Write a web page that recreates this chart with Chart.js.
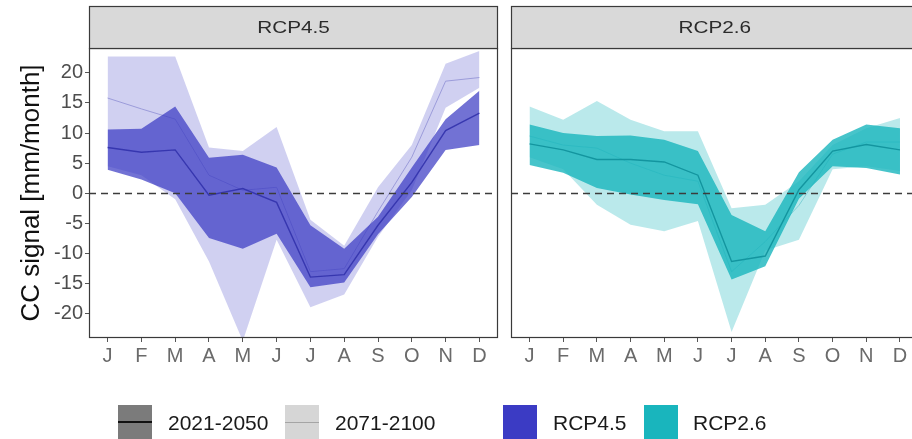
<!DOCTYPE html>
<html>
<head>
<meta charset="utf-8">
<script src="https://cdn.jsdelivr.net/npm/chart.js@4.4.1/dist/chart.umd.min.js"></script>
<style>
  html, body { margin: 0; padding: 0; background: #fff; overflow: hidden; }
  #wrap { position: relative; width: 912px; height: 439px; overflow: hidden;
          font-family: "Liberation Sans", Arial, sans-serif; }
  #cA { position: absolute; left: 0; top: 0; }
  #cB { position: absolute; left: 500px; top: 0; }
  .key { position: absolute; top: 405px; width: 34px; height: 34px; }
  .key i { position: absolute; left: 0; right: 0; display: block; }
  .lab { position: absolute; top: 411px; font-size: 21px; line-height: 24px; color: #1a1a1a; white-space: nowrap; }
</style>
</head>
<body>
<div id="wrap">
  <canvas id="cA" width="500" height="439"></canvas>
  <canvas id="cB" width="420" height="439"></canvas>
  <div id="legend"></div>
</div>
<script>
// Month axis and y ticks
const months = ['J', 'F', 'M', 'A', 'M', 'J', 'J', 'A', 'S', 'O', 'N', 'D'];
const yTicks = [-20, -15, -10, -5, 0, 5, 10, 15, 20];

// Facet titles and legend entries
const panelTitles = ['RCP4.5', 'RCP2.6'];
const periodLabels = ['2021-2050', '2071-2100'];

// RCP4.5, 2021-2050: median and ensemble range (mm/month)
const rcp45NearMed = [7.6, 6.8, 7.2, -0.3, 0.8, -1.5, -13.9, -13.5, -5.3, 1.8, 10.4, 13.3];
const rcp45NearLo  = [3.9, 2.3, 0.0, -7.4, -9.2, -6.7, -15.6, -14.8, -6.8, -0.6, 7.2, 8.0];
const rcp45NearHi  = [10.6, 10.7, 14.4, 5.9, 6.4, 4.3, -5.3, -9.2, -3.9, 4.3, 12.3, 17.0];

// RCP4.5, 2071-2100
const rcp45FarMed = [15.8, 14.0, 12.3, 3.0, 0.5, 1.0, -13.0, -12.5, -3.0, 6.0, 18.6, 19.2];
const rcp45FarLo  = [4.5, 3.0, -1.0, -11.3, -24.5, -7.7, -18.9, -16.8, -7.2, 0.5, 14.2, 17.5];
const rcp45FarHi  = [22.7, 22.7, 22.7, 7.6, 7.0, 11.0, -4.4, -8.7, 1.0, 8.0, 21.5, 23.6];

// RCP2.6, 2021-2050
const rcp26NearMed = [8.2, 7.2, 5.6, 5.6, 5.2, 3.0, -11.3, -10.4, 0.6, 7.0, 8.1, 7.2];
const rcp26NearLo  = [4.7, 3.4, 0.9, -0.2, -1.1, -1.8, -14.3, -12.1, -0.9, 4.5, 4.2, 3.1];
const rcp26NearHi  = [11.4, 10.0, 9.5, 9.6, 8.9, 7.0, -3.6, -6.3, 3.5, 8.9, 11.4, 10.8];

// RCP2.6, 2071-2100
const rcp26FarMed = [9.5, 8.0, 7.5, 5.0, 3.0, 2.0, -13.0, -8.0, -2.0, 6.5, 8.5, 8.5];
const rcp26FarLo  = [6.0, 4.0, -1.9, -5.2, -6.3, -4.6, -23.0, -9.5, -7.7, 4.0, 4.5, 3.7];
const rcp26FarHi  = [14.4, 12.2, 15.3, 12.2, 10.3, 10.3, -2.5, -1.9, 2.0, 8.0, 10.8, 12.5];

const FONT = '"Liberation Sans", Arial, sans-serif';
Chart.defaults.font.family = FONT;

const palette = {
  rcp45: { rgb: '59,59,196', line: 'rgba(50,50,172,0.9)', farLine: 'rgba(150,150,215,0.9)' },
  rcp26: { rgb: '25,181,189', line: 'rgba(16,145,155,0.9)', farLine: 'rgba(120,205,212,0.9)' }
};

const toXY = arr => arr.map((v, i) => ({ x: i + 1, y: v }));

function bandSets(med, lo, hi, rgb, lineCol, fillAlpha, medWidth, baseOrder) {
  const none = 'rgba(0,0,0,0)';
  const common = { pointRadius: 0, pointHoverRadius: 0, tension: 0 };
  return [
    Object.assign({ data: toXY(lo), borderColor: none, borderWidth: 1, fill: false, order: baseOrder + 2 }, common),
    Object.assign({ data: toXY(hi), borderColor: none, borderWidth: 1, fill: '-1',
                    backgroundColor: `rgba(${rgb},${fillAlpha})`, order: baseOrder + 1 }, common),
    Object.assign({ data: toXY(med), borderColor: lineCol, borderWidth: medWidth, fill: false, order: baseOrder }, common)
  ];
}

// Facet strip, dashed zero line and panel frame
function panelDecor(title) {
  return {
    id: 'panelDecor',
    afterDatasetsDraw(chart) {
      const { ctx, chartArea: a, scales: { y } } = chart;
      const y0 = Math.round(y.getPixelForValue(0)) + 0.5;
      ctx.save();
      ctx.beginPath();
      ctx.rect(a.left, a.top, a.right - a.left, a.bottom - a.top);
      ctx.clip();
      ctx.strokeStyle = '#3c3c3c';
      ctx.lineWidth = 1.3;
      ctx.setLineDash([7, 5]);
      ctx.beginPath();
      ctx.moveTo(a.left, y0);
      ctx.lineTo(a.right, y0);
      ctx.stroke();
      ctx.restore();

      ctx.save();
      ctx.strokeStyle = '#3a3a3a';
      ctx.lineWidth = 1.2;
      ctx.strokeRect(a.left + 0.5, a.top + 0.5, a.right - a.left - 1, a.bottom - a.top - 1);
      ctx.restore();
    },
    afterDraw(chart) {
      const { ctx, chartArea: a } = chart;
      const top = 6, bottom = a.top;
      ctx.save();
      ctx.fillStyle = '#d9d9d9';
      ctx.fillRect(a.left, top, a.right - a.left, bottom - top);
      ctx.strokeStyle = '#3a3a3a';
      ctx.lineWidth = 1.2;
      ctx.strokeRect(a.left + 0.5, top + 0.5, a.right - a.left - 1, bottom - top);
      ctx.fillStyle = '#2b2b2b';
      ctx.font = '17px ' + FONT;
      ctx.textAlign = 'center';
      ctx.textBaseline = 'middle';
      ctx.translate((a.left + a.right) / 2, (top + bottom) / 2 + 1);
      ctx.scale(1.22, 1);
      ctx.fillText(title, 0, 0);
      ctx.restore();
    }
  };
}

function makePanel(canvasId, title, sets, withYAxis, padLeft, padRight) {
  const datasets = [].concat(sets);
  return new Chart(document.getElementById(canvasId), {
    type: 'line',
    data: { datasets },
    options: {
      responsive: false,
      animation: false,
      events: [],
      layout: { padding: { left: padLeft, right: padRight, top: 48, bottom: 61 } },
      plugins: { legend: { display: false }, tooltip: { enabled: false } },
      scales: {
        x: {
          type: 'linear', min: 0.45, max: 12.55,
          afterBuildTicks: s => { s.ticks = months.map((m, i) => ({ value: i + 1 })); },
          afterFit: s => { s.height = 40; },
          ticks: { callback: (v, i) => months[i], color: '#6a6a6a', font: { size: 20 },
                   padding: 2, maxRotation: 0, autoSkip: false },
          grid: { drawOnChartArea: false, drawTicks: true, tickLength: 4, tickColor: '#555', tickWidth: 1 },
          border: { display: false }
        },
        y: {
          display: withYAxis,
          min: -24, max: 24.1,
          afterBuildTicks: s => { s.ticks = yTicks.map(v => ({ value: v })); },
          afterFit: s => { s.width = withYAxis ? 89 : 0; },
          ticks: { color: '#4d4d4d', font: { size: 20 }, padding: 2 },
          grid: { drawOnChartArea: false, drawTicks: true, tickLength: 4, tickColor: '#555', tickWidth: 1 },
          border: { display: false },
          title: { display: true, text: 'CC signal [mm/month]', color: '#111',
                   font: { size: 26 }, padding: { top: 16, bottom: 0 } }
        }
      }
    },
    plugins: [panelDecor(title)]
  });
}

const setsA = bandSets(rcp45FarMed, rcp45FarLo, rcp45FarHi, palette.rcp45.rgb, palette.rcp45.farLine, 0.24, 1, 3)
  .concat(bandSets(rcp45NearMed, rcp45NearLo, rcp45NearHi, palette.rcp45.rgb, palette.rcp45.line, 0.72, 1.4, 0));
const setsB = bandSets(rcp26FarMed, rcp26FarLo, rcp26FarHi, palette.rcp26.rgb, palette.rcp26.farLine, 0.3, 1, 3)
  .concat(bandSets(rcp26NearMed, rcp26NearLo, rcp26NearHi, palette.rcp26.rgb, palette.rcp26.line, 0.8, 1.4, 0));

makePanel('cA', panelTitles[0], setsA, true, 0, 2);
makePanel('cB', panelTitles[1], setsB, false, 11, 1.5);

// Legend: period keys (grey shades) and scenario keys (colours)
const legend = document.getElementById('legend');
const legendEntries = [
  { label: periodLabels[0], bg: '#7b7b7b', line: '#111', lw: 2 },
  { label: periodLabels[1], bg: '#d6d6d6', line: '#a5a5a5', lw: 1 },
  { label: panelTitles[0], bg: 'rgb(' + palette.rcp45.rgb + ')' },
  { label: panelTitles[1], bg: 'rgb(' + palette.rcp26.rgb + ')' }
];
const keyLeft = [118, 285, 503, 644];
const labLeft = [168, 335, 553, 693];
legendEntries.forEach((e, i) => {
  const k = document.createElement('div');
  k.className = 'key';
  k.style.left = keyLeft[i] + 'px';
  k.style.background = e.bg;
  if (e.line) {
    const l = document.createElement('i');
    l.style.top = (17 - e.lw / 2) + 'px';
    l.style.height = e.lw + 'px';
    l.style.background = e.line;
    k.appendChild(l);
  }
  legend.appendChild(k);
  const t = document.createElement('div');
  t.className = 'lab';
  t.style.left = labLeft[i] + 'px';
  t.textContent = e.label;
  legend.appendChild(t);
});
</script>
</body>
</html>
